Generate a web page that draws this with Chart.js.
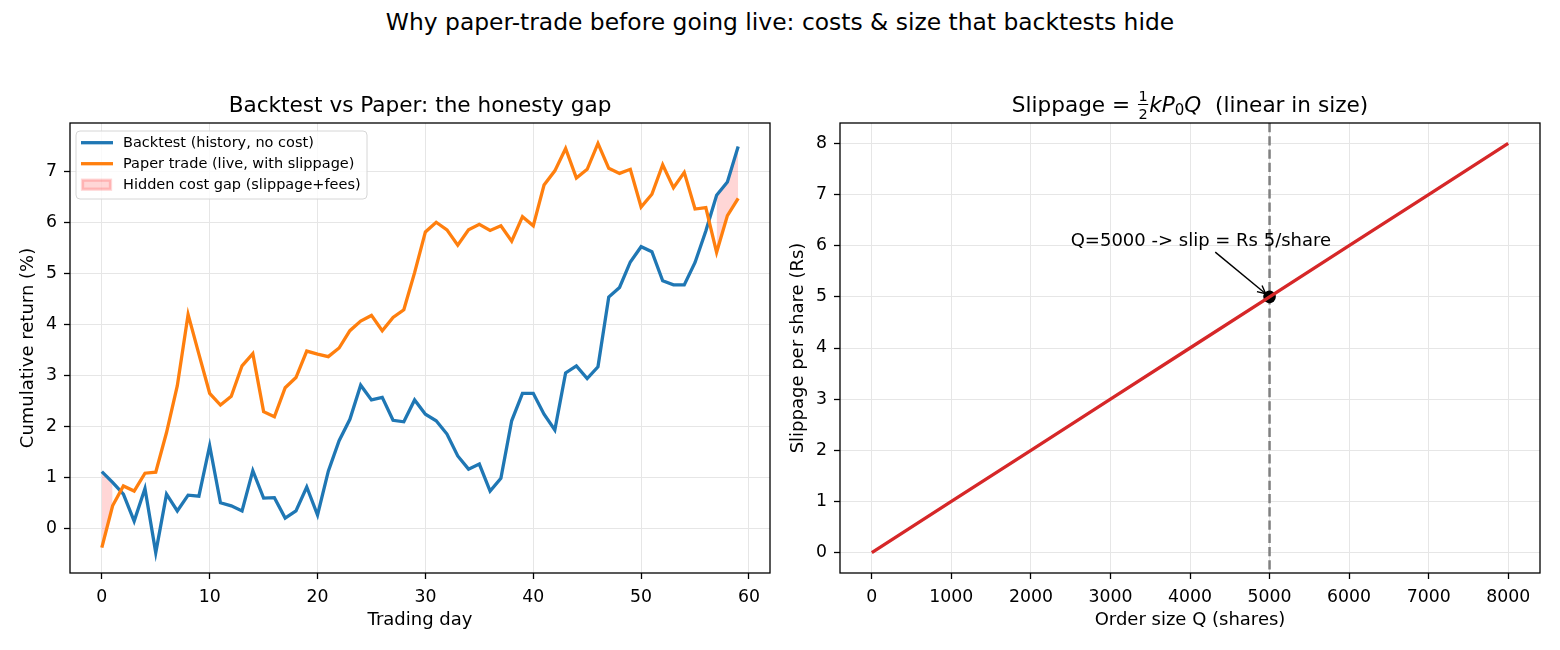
<!DOCTYPE html>
<html>
<head>
<meta charset="utf-8">
<script src="https://cdn.jsdelivr.net/npm/chart.js@4.4.1/dist/chart.umd.min.js"></script>
<style>
  html, body { margin: 0; padding: 0; background: #fff; }
  #fig { position: relative; width: 1560px; height: 650px; font-family: "DejaVu Sans", sans-serif; }
  #suptitle { position: absolute; left: 0; top: 8px; width: 1560px; text-align: center; font-size: 23.4px; color: #000; }
  canvas { position: absolute; top: 0; }
  #left { left: 0; }
  #right { left: 780px; }
</style>
</head>
<body>
<div id="fig">
  <div id="suptitle">Why paper-trade before going live: costs &amp; size that backtests hide</div>
  <canvas id="left" width="780" height="650"></canvas>
  <canvas id="right" width="780" height="650"></canvas>
</div>
<script>
"use strict"

// --- left panel: cumulative return (%) per trading day ---
const backtest = [
    1.11, 0.90, 0.67, 0.14, 0.78, -0.48, 0.67, 0.34, 0.65, 0.63,
    1.62, 0.50, 0.44, 0.34, 1.13, 0.59, 0.60, 0.20, 0.34, 0.81,
    0.26, 1.12, 1.72, 2.14, 2.81, 2.52, 2.57, 2.12, 2.09, 2.52,
    2.24, 2.11, 1.85, 1.42, 1.16, 1.26, 0.73, 0.98, 2.11, 2.65,
    2.65, 2.24, 1.93, 3.05, 3.19, 2.94, 3.17, 4.54, 4.73, 5.23,
    5.53, 5.43, 4.86, 4.78, 4.78, 5.22, 5.84, 6.54, 6.80, 7.50
];
const paper = [
    -0.38, 0.44, 0.83, 0.73, 1.08, 1.10, 1.88, 2.80, 4.20, 3.42,
    2.65, 2.42, 2.59, 3.19, 3.43, 2.29, 2.19, 2.76, 2.96, 3.48,
    3.42, 3.37, 3.54, 3.88, 4.07, 4.18, 3.88, 4.14, 4.29, 5.02,
    5.82, 6.01, 5.86, 5.56, 5.86, 5.97, 5.85, 5.94, 5.64, 6.12,
    5.94, 6.74, 7.02, 7.46, 6.88, 7.05, 7.56, 7.07, 6.97, 7.05,
    6.31, 6.56, 7.14, 6.69, 6.99, 6.27, 6.30, 5.42, 6.14, 6.48
];
const days = backtest.map((_, i) => i);
const dayTicks = [0, 10, 20, 30, 40, 50, 60];
const returnTicks = [0, 1, 2, 3, 4, 5, 6, 7];

// --- right panel: slippage vs order size ---
const orderSizes = [0, 1000, 2000, 3000, 4000, 5000, 6000, 7000, 8000];
const slippage = [0, 1, 2, 3, 4, 5, 6, 7, 8];
const markQ = [5000];
const markSlip = [5];
const sizeTicks = [0, 1000, 2000, 3000, 4000, 5000, 6000, 7000, 8000];
const slipTicks = [0, 1, 2, 3, 4, 5, 6, 7, 8];

const FONT = '"DejaVu Sans", sans-serif';
const GAP = 'rgba(255, 0, 0, 0.16)';
const TICK_SIZE = 17.3;
const LABEL_SIZE = 18;
const TITLE_SIZE = 21.6;
Chart.defaults.font.family = FONT;

function font(size, italic) {
    return (italic ? 'italic ' : '') + size + 'px ' + FONT;
}

/**
 * Skriver en titel av delar (vanlig text, kursiv, index, bråk) centrerad kring cx.
 */
function drawRich(ctx, parts, cx, base) {
    const widths = parts.map(p => {
        if (p.frac) {
            ctx.font = font(p.size);
            return Math.max(...p.frac.map(t => ctx.measureText(t).width)) + 3;
        }
        ctx.font = font(p.size, p.italic);
        return ctx.measureText(p.text).width;
    });
    let x = cx - widths.reduce((s, w) => s + w, 0) / 2;
    ctx.fillStyle = '#000';
    ctx.textAlign = 'left';
    ctx.textBaseline = 'alphabetic';
    parts.forEach((p, i) => {
        const w = widths[i];
        if (p.frac) {
            ctx.font = font(p.size);
            ctx.textAlign = 'center';
            ctx.fillText(p.frac[0], x + w / 2, base - 11);
            ctx.fillText(p.frac[1], x + w / 2, base + 7);
            ctx.fillRect(x + 1, base - 8, w - 2, 1);
            ctx.textAlign = 'left';
        } else {
            ctx.font = font(p.size, p.italic);
            ctx.fillText(p.text, x, base + (p.dy || 0));
        }
        x += w;
    });
}

// Ram, axeltitlar och diagramtitel som i matplotlib
const axesDecor = {
    id: 'axesDecor',
    afterDraw(chart, args, opts) {
        const { ctx, chartArea: a } = chart;
        ctx.save();
        ctx.strokeStyle = '#000';
        ctx.lineWidth = 1.3;
        ctx.strokeRect(a.left, a.top, a.right - a.left, a.bottom - a.top);
        ctx.fillStyle = '#000';
        ctx.font = font(LABEL_SIZE);
        ctx.textAlign = 'center';
        ctx.textBaseline = 'middle';
        ctx.fillText(opts.xLabel, (a.left + a.right) / 2, 620);
        ctx.save();
        ctx.translate(a.left - 42, (a.top + a.bottom) / 2);
        ctx.rotate(-Math.PI / 2);
        ctx.fillText(opts.yLabel, 0, 0);
        ctx.restore();
        drawRich(ctx, opts.title, (a.left + a.right) / 2, 112);
        ctx.restore();
    }
};

// Förklaring inne i vänstra diagrammet (uppe till vänster)
const insideLegend = {
    id: 'insideLegend',
    afterDraw(chart) {
        const { ctx, chartArea: a } = chart;
        const items = chart.data.datasets.filter(d => d.label);
        const x = a.left + 6, y = a.top + 8, w = 291, h = 68;
        ctx.save();
        ctx.beginPath();
        ctx.roundRect(x, y, w, h, 4);
        ctx.fillStyle = 'rgba(255,255,255,0.8)';
        ctx.fill();
        ctx.strokeStyle = '#d6d6d6';
        ctx.lineWidth = 1;
        ctx.stroke();
        ctx.font = font(14.5);
        ctx.textAlign = 'left';
        ctx.textBaseline = 'middle';
        items.forEach((d, i) => {
            const ry = y + 11.7 + i * 21;
            if (d.fill) {
                ctx.fillStyle = d.backgroundColor;
                ctx.fillRect(x + 6, ry - 5, 29, 10);
                ctx.strokeStyle = d.backgroundColor;
                ctx.strokeRect(x + 6.5, ry - 4.5, 28, 9);
            } else {
                ctx.strokeStyle = d.borderColor;
                ctx.lineWidth = 3.3;
                ctx.beginPath();
                ctx.moveTo(x + 5, ry);
                ctx.lineTo(x + 37, ry);
                ctx.stroke();
            }
            ctx.fillStyle = '#000';
            ctx.fillText(d.label, x + 47, ry + 1);
        });
        ctx.restore();
    }
};

// Streckad lodlinje vid Q=5000 samt pil och text
const sizeMarker = {
    id: 'sizeMarker',
    beforeDatasetsDraw(chart) {
        const { ctx, chartArea: a, scales } = chart;
        const px = scales.x.getPixelForValue(markQ[0]);
        ctx.save();
        ctx.strokeStyle = '#808080';
        ctx.lineWidth = 2.5;
        ctx.setLineDash([9.25, 4]);
        ctx.beginPath();
        ctx.moveTo(px, a.top);
        ctx.lineTo(px, a.bottom);
        ctx.stroke();
        ctx.restore();
    },
    afterDraw(chart, args, opts) {
        const { ctx, scales } = chart;
        const fs = LABEL_SIZE;
        const tx = scales.x.getPixelForValue(opts.textAt[0]);
        const ty = scales.y.getPixelForValue(opts.textAt[1]);
        const px = scales.x.getPixelForValue(markQ[0]);
        const py = scales.y.getPixelForValue(markSlip[0]);
        ctx.save();
        ctx.font = font(fs);
        ctx.fillStyle = '#000';
        ctx.textAlign = 'left';
        ctx.textBaseline = 'alphabetic';
        ctx.fillText(opts.text, tx, ty);
        const tw = ctx.measureText(opts.text).width;
        const cx = tx + tw / 2, cy = ty - 0.3 * fs;
        const bottom = ty + 0.24 * fs;
        const dx = px - cx, dy = py - cy, len = Math.hypot(dx, dy);
        const ux = dx / len, uy = dy / len;
        const t0 = (bottom - cy) / uy + 3.3;
        const sx = cx + ux * t0, sy = cy + uy * t0;
        const ex = px - ux * 5, ey = py - uy * 5;
        ctx.strokeStyle = '#000';
        ctx.lineWidth = 1.4;
        ctx.beginPath();
        ctx.moveTo(sx, sy);
        ctx.lineTo(ex, ey);
        ctx.stroke();
        const hl = 8, hw = 4;
        ctx.beginPath();
        ctx.moveTo(ex - ux * hl - uy * hw, ey - uy * hl + ux * hw);
        ctx.lineTo(ex, ey);
        ctx.lineTo(ex - ux * hl + uy * hw, ey - uy * hl - ux * hw);
        ctx.stroke();
        ctx.restore();
    }
};

function axis(min, max, ticks, fit, pad) {
    return {
        type: 'linear',
        min: min,
        max: max,
        afterBuildTicks: s => { s.ticks = ticks.map(v => ({ value: v })); },
        afterFit: fit,
        grid: { color: '#e6e6e6', lineWidth: 1, tickColor: '#000', tickLength: 6, tickWidth: 1.3 },
        border: { display: false },
        ticks: {
            color: '#000',
            font: { size: TICK_SIZE },
            padding: pad,
            maxRotation: 0,
            autoSkip: false,
            callback: v => String(v)
        }
    };
}

const baseOptions = {
    responsive: false,
    animation: false,
    devicePixelRatio: 1,
    plugins: { legend: { display: false }, tooltip: { enabled: false }, title: { display: false } },
    elements: { point: { radius: 0 }, line: { tension: 0 } }
};

const gapMask = backtest.map((v, i) => v > paper[i]);

new Chart(document.getElementById('left'), {
    type: 'line',
    data: {
        datasets: [
            {
                label: 'Backtest (history, no cost)',
                data: backtest.map((v, i) => ({ x: days[i], y: v })),
                borderColor: '#1f77b4',
                borderWidth: 3.3,
                fill: false,
                order: 2
            },
            {
                label: 'Paper trade (live, with slippage)',
                data: paper.map((v, i) => ({ x: days[i], y: v })),
                borderColor: '#ff7f0e',
                borderWidth: 3.3,
                fill: false,
                order: 1
            },
            {
                label: 'Hidden cost gap (slippage+fees)',
                data: backtest.map((v, i) => ({ x: days[i], y: gapMask[i] ? v : null })),
                borderWidth: 0,
                borderColor: 'transparent',
                backgroundColor: GAP,
                fill: '+1',
                order: 3
            },
            {
                label: '',
                data: paper.map((v, i) => ({ x: days[i], y: gapMask[i] ? v : null })),
                borderWidth: 0,
                borderColor: 'transparent',
                fill: false,
                order: 3
            }
        ]
    },
    options: {
        ...baseOptions,
        layout: { padding: { left: 0, top: 123, right: 10, bottom: 0 } },
        scales: {
            x: axis(-2.95, 61.95, dayTicks, s => { s.height = 77; }, 8),
            y: axis(-0.88, 7.96, returnTicks, s => { s.width = 70; }, 7)
        },
        plugins: {
            ...baseOptions.plugins,
            axesDecor: {
                xLabel: 'Trading day',
                yLabel: 'Cumulative return (%)',
                title: [{ text: 'Backtest vs Paper: the honesty gap', size: TITLE_SIZE }]
            }
        }
    },
    plugins: [axesDecor, insideLegend]
});

new Chart(document.getElementById('right'), {
    type: 'line',
    data: {
        datasets: [
            {
                label: 'Slippage',
                data: orderSizes.map((q, i) => ({ x: q, y: slippage[i] })),
                borderColor: '#d62728',
                borderWidth: 3.3,
                fill: false
            },
            {
                label: 'Q=5000',
                data: markQ.map((q, i) => ({ x: q, y: markSlip[i] })),
                showLine: false,
                pointRadius: 6.3,
                pointBackgroundColor: '#000',
                pointBorderWidth: 0
            }
        ]
    },
    options: {
        ...baseOptions,
        layout: { padding: { left: 0, top: 123, right: 20, bottom: 0 } },
        scales: {
            x: axis(-400, 8400, sizeTicks, s => { s.height = 77; }, 8),
            y: axis(-0.4, 8.4, slipTicks, s => { s.width = 60; }, 7)
        },
        plugins: {
            ...baseOptions.plugins,
            axesDecor: {
                xLabel: 'Order size Q (shares)',
                yLabel: 'Slippage per share (Rs)',
                title: [
                    { text: 'Slippage = ', size: TITLE_SIZE },
                    { frac: ['1', '2'], size: 14.5 },
                    { text: 'kP', size: TITLE_SIZE, italic: true },
                    { text: '0', size: 15, dy: 3 },
                    { text: 'Q', size: TITLE_SIZE, italic: true },
                    { text: '  (linear in size)', size: TITLE_SIZE }
                ]
            },
            sizeMarker: { text: 'Q=5000 -> slip = Rs 5/share', textAt: [2500, 6.0] }
        }
    },
    plugins: [axesDecor, sizeMarker]
});
</script>
</body>
</html>
